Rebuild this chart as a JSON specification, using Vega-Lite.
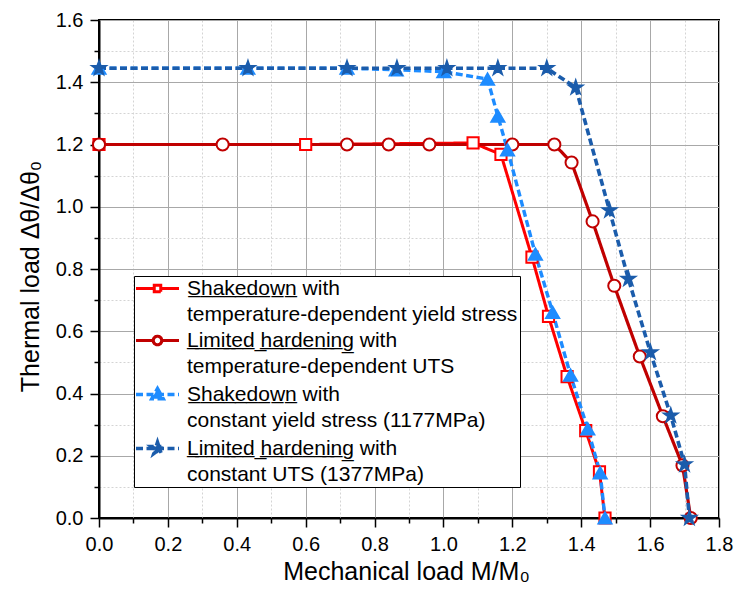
{
  "$schema": "https://vega.github.io/schema/vega-lite/v6.json",
  "width": 620,
  "height": 498,
  "autosize": "none",
  "padding": {"left": 99, "top": 20, "right": 21, "bottom": 81},
  "background": "white",
  "config": {
    "font": "Liberation Sans",
    "view": {"stroke": "black", "strokeWidth": 2},
    "axis": {
      "domainColor": "black",
      "domainWidth": 2,
      "tickColor": "black",
      "tickWidth": 1.5,
      "labelFont": "Liberation Sans",
      "labelFontSize": 20,
      "labelColor": "black",
      "titleFont": "Liberation Sans",
      "titleFontSize": 25,
      "titleFontWeight": "normal",
      "titleColor": "black",
      "labelFlush": false,
      "labelOverlap": false,
      "labelBound": false
    }
  },
  "data": {
    "values": [
      {"series": "SD-T", "x": 0.0, "y": 1.2},
      {"series": "SD-T", "x": 0.6, "y": 1.2},
      {"series": "SD-T", "x": 1.086, "y": 1.205},
      {"series": "SD-T", "x": 1.167, "y": 1.168},
      {"series": "SD-T", "x": 1.257, "y": 0.838},
      {"series": "SD-T", "x": 1.305, "y": 0.648},
      {"series": "SD-T", "x": 1.359, "y": 0.454},
      {"series": "SD-T", "x": 1.413, "y": 0.281},
      {"series": "SD-T", "x": 1.453, "y": 0.148},
      {"series": "SD-T", "x": 1.469, "y": 0.0},
      {"series": "LH-T", "x": 0.0, "y": 1.2},
      {"series": "LH-T", "x": 0.359, "y": 1.2},
      {"series": "LH-T", "x": 0.72, "y": 1.2},
      {"series": "LH-T", "x": 0.841, "y": 1.2},
      {"series": "LH-T", "x": 0.959, "y": 1.2},
      {"series": "LH-T", "x": 1.2, "y": 1.2},
      {"series": "LH-T", "x": 1.322, "y": 1.2},
      {"series": "LH-T", "x": 1.372, "y": 1.142},
      {"series": "LH-T", "x": 1.433, "y": 0.953},
      {"series": "LH-T", "x": 1.496, "y": 0.746},
      {"series": "LH-T", "x": 1.57, "y": 0.519},
      {"series": "LH-T", "x": 1.637, "y": 0.327},
      {"series": "LH-T", "x": 1.694, "y": 0.169},
      {"series": "LH-T", "x": 1.718, "y": 0.0},
      {"series": "SD-C", "x": 0.0, "y": 1.445},
      {"series": "SD-C", "x": 0.432, "y": 1.445},
      {"series": "SD-C", "x": 0.72, "y": 1.445},
      {"series": "SD-C", "x": 0.863, "y": 1.44},
      {"series": "SD-C", "x": 1.001, "y": 1.434},
      {"series": "SD-C", "x": 1.128, "y": 1.41},
      {"series": "SD-C", "x": 1.158, "y": 1.291},
      {"series": "SD-C", "x": 1.186, "y": 1.183},
      {"series": "SD-C", "x": 1.267, "y": 0.848},
      {"series": "SD-C", "x": 1.317, "y": 0.661},
      {"series": "SD-C", "x": 1.369, "y": 0.459},
      {"series": "SD-C", "x": 1.419, "y": 0.286},
      {"series": "SD-C", "x": 1.455, "y": 0.145},
      {"series": "SD-C", "x": 1.469, "y": 0.0},
      {"series": "LH-C", "x": 0.0, "y": 1.445},
      {"series": "LH-C", "x": 0.4325, "y": 1.445},
      {"series": "LH-C", "x": 0.72, "y": 1.445},
      {"series": "LH-C", "x": 0.865, "y": 1.445},
      {"series": "LH-C", "x": 1.01, "y": 1.445},
      {"series": "LH-C", "x": 1.158, "y": 1.445},
      {"series": "LH-C", "x": 1.3, "y": 1.445},
      {"series": "LH-C", "x": 1.384, "y": 1.383},
      {"series": "LH-C", "x": 1.482, "y": 0.988},
      {"series": "LH-C", "x": 1.537, "y": 0.768},
      {"series": "LH-C", "x": 1.601, "y": 0.532},
      {"series": "LH-C", "x": 1.66, "y": 0.329},
      {"series": "LH-C", "x": 1.7, "y": 0.172},
      {"series": "LH-C", "x": 1.714, "y": 0.0}
    ]
  },
  "encoding": {
    "x": {
      "field": "x",
      "type": "quantitative",
      "scale": {"domain": [0, 1.8], "nice": false, "zero": false},
      "axis": {
        "title": "Mechanical load M/M₀",
        "values": [0, 0.1, 0.2, 0.3, 0.4, 0.5, 0.6, 0.7, 0.8, 0.9, 1.0, 1.1, 1.2, 1.3, 1.4, 1.5, 1.6, 1.7, 1.8],
        "labelExpr": "abs(datum.value*5-round(datum.value*5))<0.001 ? format(datum.value,'.1f') : ''",
        "labelPadding": 7,
        "grid": true,
        "gridColor": {"condition": {"test": "abs(datum.value*5-round(datum.value*5))<0.001", "value": "#a8a8a8"}, "value": "#d4d4d4"},
        "gridDash": {"condition": {"test": "abs(datum.value*5-round(datum.value*5))<0.001", "value": []}, "value": [2, 2]},
        "gridWidth": 1,
        "tickSize": {"condition": {"test": "abs(datum.value*5-round(datum.value*5))<0.001", "value": 9}, "value": 5},
        "titleX": 307,
        "titleY": 61,
        "titleAlign": "center",
        "titleBaseline": "alphabetic"
      }
    },
    "y": {
      "field": "y",
      "type": "quantitative",
      "scale": {"domain": [0, 1.6], "nice": false, "zero": false},
      "axis": {
        "title": "Thermal load Δθ/Δθ₀",
        "values": [0, 0.1, 0.2, 0.3, 0.4, 0.5, 0.6, 0.7, 0.8, 0.9, 1.0, 1.1, 1.2, 1.3, 1.4, 1.5, 1.6],
        "labelExpr": "abs(datum.value*5-round(datum.value*5))<0.001 ? format(datum.value,'.1f') : ''",
        "labelPadding": 7,
        "grid": true,
        "gridColor": {"condition": {"test": "abs(datum.value*5-round(datum.value*5))<0.001", "value": "#a8a8a8"}, "value": "#d4d4d4"},
        "gridDash": {"condition": {"test": "abs(datum.value*5-round(datum.value*5))<0.001", "value": []}, "value": [2, 2]},
        "gridWidth": 1,
        "tickSize": {"condition": {"test": "abs(datum.value*5-round(datum.value*5))<0.001", "value": 9}, "value": 5},
        "titleAngle": -90,
        "titleX": -69,
        "titleY": 256,
        "titleAlign": "center",
        "titleBaseline": "middle"
      }
    }
  },
  "layer": [
    {
      "mark": {"type": "line", "strokeJoin": "round"},
      "encoding": {
        "stroke": {
          "field": "series",
          "type": "nominal",
          "scale": {"domain": ["SD-T", "LH-T", "SD-C", "LH-C"], "range": ["#FF0000", "#C00000", "#1E8CFF", "#1B5CAB"]},
          "legend": {
            "orient": "none",
            "legendX": 35,
            "legendY": 256,
            "title": null,
            "strokeColor": "black",
            "fillColor": "white",
            "padding": 2,
            "rowPadding": 4,
            "labelFont": "Liberation Sans",
            "labelFontSize": 21,
            "labelColor": "black",
            "labelLimit": 0,
            "labelOffset": 30,
            "labelBaseline": "middle",
            "symbolSize": 100,
            "labelExpr": "datum.value=='SD-T' ? ['S̲h̲a̲k̲e̲d̲o̲w̲n̲ with', 'temperature-dependent yield stress'] : datum.value=='LH-T' ? ['L̲i̲m̲i̲t̲e̲d̲ ̲h̲a̲r̲d̲e̲n̲i̲n̲g̲ with', 'temperature-dependent UTS'] : datum.value=='SD-C' ? ['S̲h̲a̲k̲e̲d̲o̲w̲n̲ with', 'constant yield stress (1177MPa)'] : ['L̲i̲m̲i̲t̲e̲d̲ ̲h̲a̲r̲d̲e̲n̲i̲n̲g̲ with', 'constant UTS (1377MPa)']",
            "encode": {
              "labels": {"update": {"lineHeight": {"value": 26.5}}},
              "symbols": {
                "update": {
                  "shape": {"signal": "datum.value=='SD-T' ? 'M-4.3,0H-0.65M0.65,0H4.3M-0.65,-0.65H0.65V0.65H-0.65Z' : datum.value=='LH-T' ? 'M-4.3,0H-0.85M0.85,0H4.3M0.85,0A0.85,0.85 0 1,1 -0.85,0A0.85,0.85 0 1,1 0.85,0Z' : datum.value=='SD-C' ? 'M-4.3,0H4.3M0,-1.2L1.15,0.85H-1.15Z' : 'M-4.3,0H4.3M0,-1.25L0.28,-0.386L1.19,-0.386L0.454,0.147L0.735,1.011L0,0.478L-0.735,1.011L-0.454,0.147L-1.19,-0.386L-0.28,-0.386Z'"},
                  "fill": {"signal": "datum.value=='SD-T'||datum.value=='LH-T' ? 'white' : datum.value=='SD-C' ? '#1E8CFF' : '#1B5CAB'"},
                  "x": {"value": 21.5},
                  "opacity": {"value": 1}
                }
              }
            }
          }
        },
        "strokeDash": {
          "field": "series",
          "type": "nominal",
          "scale": {"domain": ["SD-T", "LH-T", "SD-C", "LH-C"], "range": [[1, 0], [1, 0], [7, 3.5], [7, 3.5]]},
          "legend": null
        },
        "strokeWidth": {
          "field": "series",
          "type": "nominal",
          "scale": {"domain": ["SD-T", "LH-T", "SD-C", "LH-C"], "range": [3, 3.6, 2.4, 2.4]},
          "legend": null
        }
      }
    },
    {
      "mark": {"type": "point", "filled": false, "opacity": 1, "strokeWidth": 2},
      "encoding": {
        "stroke": {"field": "series", "type": "nominal"},
        "fill": {
          "field": "series",
          "type": "nominal",
          "scale": {"domain": ["SD-T", "LH-T", "LH-C", "SD-C"], "range": ["white", "white", "#1B5CAB", "#1E8CFF"]},
          "legend": null
        },
        "shape": {
          "field": "series",
          "type": "nominal",
          "scale": {"domain": ["LH-T", "SD-T", "SD-C", "LH-C"], "range": ["circle", "square", "triangle-up", "M0,-1L0.2245,-0.309L0.951,-0.309L0.363,0.118L0.588,0.809L0,0.382L-0.588,0.809L-0.363,0.118L-0.951,-0.309L-0.2245,-0.309Z"]},
          "legend": null
        },
        "size": {
          "field": "series",
          "type": "nominal",
          "scale": {"domain": ["LH-C", "SD-C", "LH-T", "SD-T"], "range": [190, 125, 70, 45]},
          "legend": null
        }
      }
    }
  ]
}
